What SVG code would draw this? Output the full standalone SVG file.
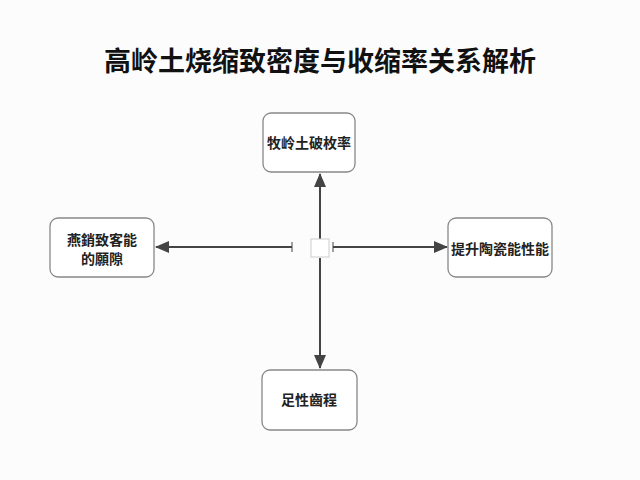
<svg xmlns="http://www.w3.org/2000/svg" width="640" height="480" viewBox="0 0 640 480">
<style>
.b{fill:#fff;stroke:#888;stroke-width:1.3}
.t{font-family:"Liberation Sans","Noto Sans CJK SC",sans-serif;font-size:14px;font-weight:bold;fill:#222;text-anchor:middle}
.c{stroke:#444;stroke-width:2;fill:none}
</style>
<defs><marker id="a" markerWidth="14" markerHeight="12" refX="13" refY="6" orient="auto" markerUnits="userSpaceOnUse"><path d="M0,0L14,6L0,12z" fill="#444"/></marker></defs>
<rect width="640" height="480" fill="#fcfcfc"/>
<text x="320" y="71" class="t" style="font-size:27px;fill:#111">高岭土烧缩致密度与收缩率关系解析</text>
<g id="connectors">
<line class="c" x1="320" y1="239" x2="320" y2="174" marker-end="url(#a)"/>
<line class="c" x1="292" y1="247" x2="156" y2="247" marker-end="url(#a)"/>
<line class="c" x1="333" y1="247" x2="447" y2="247" marker-end="url(#a)"/>
<line class="c" x1="320" y1="258" x2="320" y2="368" marker-end="url(#a)"/>
<line stroke="#444" stroke-width="1" x1="292" y1="242" x2="292" y2="252"/>
<line stroke="#444" stroke-width="1" x1="333" y1="242" x2="333" y2="252"/>
<rect x="311" y="239" width="18" height="18" fill="#fff" stroke="#ccc"/>
</g>
<g id="top"><rect class="b" x="263" y="113" width="92" height="59" rx="8"/><text class="t" x="309" y="148">牧岭土破枚率</text></g>
<g id="left"><rect class="b" x="50" y="218" width="104" height="59" rx="8"/><text class="t" x="102" y="245">燕銷致客能</text><text class="t" x="102" y="264">的願隙</text></g>
<g id="right"><rect class="b" x="448" y="218" width="104" height="59" rx="8"/><text class="t" x="500" y="254">提升陶瓷能性能</text></g>
<g id="bottom"><rect class="b" x="262" y="370" width="95" height="60" rx="8"/><text class="t" x="309" y="405">足性齒程</text></g>
</svg>
